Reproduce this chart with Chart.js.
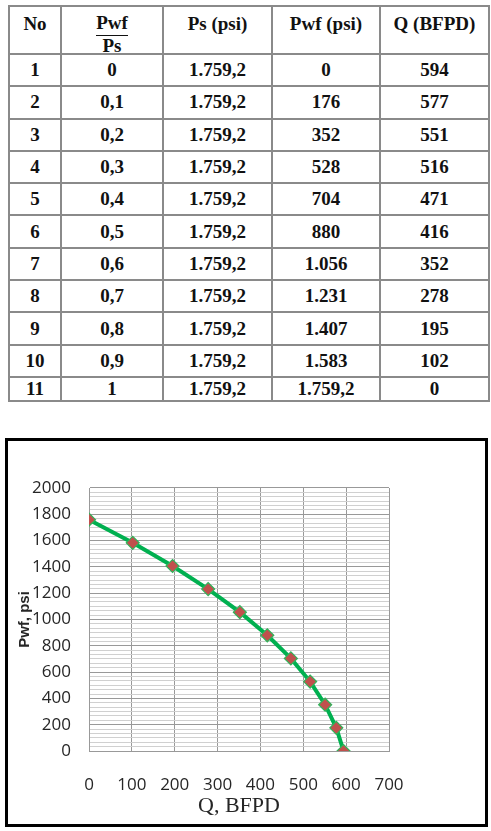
<!DOCTYPE html>
<html>
<head>
<meta charset="utf-8">
<script src="https://cdn.jsdelivr.net/npm/chart.js@4.4.0/dist/chart.umd.min.js"></script>
<style>
    body {
        margin: 0;
        background: #ffffff;
        width: 491px;
        height: 831px;
        position: relative;
        overflow: hidden;
    }

    #dataTable {
        position: absolute;
        left: 8px;
        top: 5px;
        width: 480px;
        border-collapse: collapse;
        table-layout: fixed;
        font-family: "Liberation Serif", "Times New Roman", serif;
        font-weight: bold;
        font-size: 19px;
        color: #111;
    }

    #dataTable th, #dataTable td {
        border: 2px solid #8a8a8a;
        text-align: center;
        padding: 0;
    }

    #dataTable th {
        vertical-align: top;
        padding-top: 6px;
        height: 40px;
        font-weight: bold;
        line-height: 22px;
        overflow: visible;
    }

    #dataTable td {
        vertical-align: middle;
        height: 30.3px;
    }

    #dataTable tr.lastRow td {
        height: 22px;
    }

    .fraction {
        display: inline-block;
        vertical-align: top;
        position: relative;
        line-height: 19px;
        height: 22px;
        overflow: visible;
    }

    .fraction .top {
        display: block;
        border-bottom: 1.5px solid #111;
        padding-bottom: 3px;
    }

    .fraction .bottom {
        display: block;
        height: 14px;
        overflow: visible;
    }

    #chartBox {
        position: absolute;
        left: 5px;
        top: 438px;
        width: 483px;
        height: 389px;
        border: 3px solid #000;
        box-sizing: border-box;
        background: #fff;
    }

    #ipr {
        position: absolute;
        left: 0;
        top: 0;
    }
</style>
</head>
<body>

<table id="dataTable">
    <colgroup>
        <col style="width:52px">
        <col style="width:102px">
        <col style="width:109px">
        <col style="width:108px">
        <col style="width:109px">
    </colgroup>
    <thead>
        <tr>
            <th>No</th>
            <th><span class="fraction"><span class="top">Pwf</span><span class="bottom">Ps</span></span></th>
            <th>Ps (psi)</th>
            <th>Pwf (psi)</th>
            <th>Q (BFPD)</th>
        </tr>
    </thead>
    <tbody id="tableBody"></tbody>
</table>

<div id="chartBox">
    <canvas id="ipr" width="477" height="383"></canvas>
</div>

<script>
    // Pwf/Ps ratio for each row
    const pressureRatios = [0, 0.1, 0.2, 0.3, 0.4, 0.5, 0.6, 0.7, 0.8, 0.9, 1];

    // static reservoir pressure (psi)
    const staticPressure = 1759.2;

    // flowing bottom hole pressure (psi)
    const flowingPressures = [0, 176, 352, 528, 704, 880, 1056, 1231, 1407, 1583, 1759.2];

    // flow rate (BFPD)
    const flowRates = [594, 577, 551, 516, 471, 416, 352, 278, 195, 102, 0];

    // axis ticks
    const xTicks = [0, 100, 200, 300, 400, 500, 600, 700];
    const yMajorTicks = [0, 200, 400, 600, 800, 1000, 1200, 1400, 1600, 1800, 2000];
    const minorPerMajor = 6;

    //Format numbers the Indonesian way: 1.759,2
    function formatNumber(value) {
        var parts = String(value).split('.');
        var whole = parts[0].replace(/\B(?=(\d{3})+(?!\d))/g, '.');
        if (parts.length > 1) {
            return whole + ',' + parts[1];
        }
        return whole;
    }

    function buildTable() {
        var tableBody = document.getElementById('tableBody');

        for (let i = 0; i < flowRates.length; i++) {
            var row = document.createElement('tr');
            if (i == flowRates.length - 1) {
                row.className = 'lastRow';
            }

            var cells = [
                String(i + 1),
                formatNumber(pressureRatios[i]),
                formatNumber(staticPressure),
                formatNumber(flowingPressures[i]),
                formatNumber(flowRates[i])
            ];

            cells.forEach(function (text) {
                var cell = document.createElement('td');
                cell.textContent = text;
                row.appendChild(cell);
            });

            tableBody.appendChild(row);
        }
    }

    function buildChart() {
        var chartControl = document.getElementById('ipr');

        const points = [];
        for (let i = 0; i < flowRates.length; i++) {
            points.push({ x: flowRates[i], y: flowingPressures[i] });
        }

        const minorStep = (yMajorTicks[1] - yMajorTicks[0]) / minorPerMajor;
        const yTickCount = (yMajorTicks.length - 1) * minorPerMajor;

        var iprChart = new Chart(chartControl, {
            type: 'scatter',
            data: {
                datasets: [{
                    label: 'IPR',
                    data: points,
                    showLine: true,
                    borderColor: '#00b050',
                    borderWidth: 4,
                    tension: 0,
                    pointStyle: 'rectRot',
                    pointRadius: 6.5,
                    pointBackgroundColor: '#c0504d',
                    pointBorderColor: '#2fb55a',
                    pointBorderWidth: 1.2
                }]
            },
            options: {
                responsive: false,
                animation: false,
                layout: {
                    padding: { left: 0, right: 96, top: 47, bottom: 0 }
                },
                scales: {
                    x: {
                        type: 'linear',
                        min: xTicks[0],
                        max: xTicks[xTicks.length - 1],
                        afterFit: function (scale) {
                            scale.height = 73;
                        },
                        afterBuildTicks: function (scale) {
                            scale.ticks = xTicks.map(function (v) { return { value: v }; });
                        },
                        grid: {
                            color: '#999999',
                            lineWidth: 1,
                            drawTicks: false
                        },
                        border: {
                            color: '#999999'
                        },
                        ticks: {
                            padding: 24,
                            color: '#262626',
                            font: { family: '"Open Sans", sans-serif', size: 17 },
                            maxRotation: 0
                        },
                        title: {
                            display: true,
                            text: 'Q, BFPD',
                            color: '#262626',
                            font: { family: '"Liberation Serif", "Times New Roman", serif', size: 22 },
                            padding: { top: 0, bottom: 5 }
                        }
                    },
                    y: {
                        type: 'linear',
                        min: yMajorTicks[0],
                        max: yMajorTicks[yMajorTicks.length - 1],
                        afterFit: function (scale) {
                            scale.width = 81;
                        },
                        afterBuildTicks: function (scale) {
                            const ticks = [];
                            for (let i = 0; i <= yTickCount; i++) {
                                ticks.push({ value: yMajorTicks[0] + i * minorStep });
                            }
                            scale.ticks = ticks;
                        },
                        grid: {
                            color: function (context) {
                                return context.index % minorPerMajor == 0 ? '#999999' : '#d0d0d0';
                            },
                            lineWidth: 1,
                            drawTicks: false
                        },
                        border: {
                            color: '#999999'
                        },
                        ticks: {
                            autoSkip: false,
                            padding: 18,
                            color: '#262626',
                            font: { family: '"Open Sans", sans-serif', size: 17 },
                            callback: function (value, index) {
                                if (index % minorPerMajor != 0) {
                                    return '';
                                }
                                return yMajorTicks[index / minorPerMajor];
                            }
                        },
                        title: {
                            display: true,
                            text: 'Pwf, psi',
                            color: '#262626',
                            font: { family: '"Liberation Sans", sans-serif', size: 15, weight: 'bold' },
                            padding: { top: 8, bottom: 0 }
                        }
                    }
                },
                plugins: {
                    legend: {
                        display: false
                    },
                    tooltip: {
                        enabled: false
                    }
                }
            }
        });
    }

    buildTable();
    buildChart();
</script>
</body>
</html>
